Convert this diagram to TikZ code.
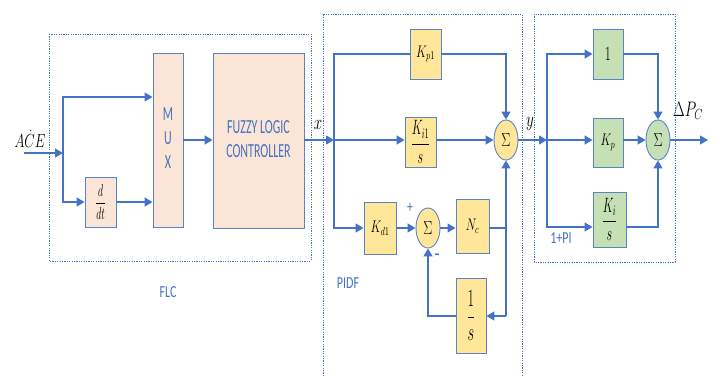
\RequirePackage{fix-cm}
\documentclass[tikz,border=0pt]{standalone}
\usepackage{fontspec}
\setsansfont{Carlito}
\usetikzlibrary{arrows.meta,shapes.geometric}
\definecolor{ln}{HTML}{4472C4}
\definecolor{bd}{HTML}{5B83CC}
\definecolor{pch}{HTML}{FBE5D6}
\definecolor{gld}{HTML}{FFE699}
\definecolor{grn}{HTML}{C5E0B4}
\newcommand\msc[2][16]{\scalebox{0.75}[1.05]{\fontsize{#1}{#1}\selectfont$\displaystyle #2$}}
\newcommand\mfr[2][16]{\scalebox{0.75}[1.3]{\fontsize{#1}{#1}\selectfont$\displaystyle #2$}}
\newcommand\tsc[2][19]{\scalebox{0.63}[1.05]{\fontsize{#1}{23}\selectfont\sffamily\begin{tabular}{@{}c@{}}#2\end{tabular}}}
\newcommand\lsc[1]{\scalebox{0.75}[1.05]{\fontsize{16}{18}\selectfont\sffamily #1}}
\begin{document}
\begin{tikzpicture}[x=1pt,y=-1pt,
  >={Triangle[length=8pt,width=9pt]},
  blk/.style={draw=bd, line width=0.9pt, inner sep=0pt},
  pchbox/.style={blk, fill=pch, text=ln},
  gldbox/.style={blk, fill=gld},
  grnbox/.style={blk, fill=grn},
  sumn/.style={ellipse, draw=bd, line width=0.9pt, inner sep=0pt, minimum width=24pt, minimum height=40pt},
  conn/.style={draw=ln, line width=1.3pt},
  arr/.style={conn,->},
  dotbox/.style={draw=ln, line width=0.8pt, dash pattern=on 1.2pt off 1.2pt},
  lbl/.style={text=ln, inner sep=0pt}]
\useasboundingbox (0,0) rectangle (718,376);

% dotted frames
\draw[dotbox] (49,34) rectangle (311,261);
\draw[dotbox] (323,376) -- (323,14) -- (522,14) -- (522,376);
\draw[dotbox] (534,14) rectangle (675,262);

% FLC blocks
\node[pchbox, minimum width=30pt, minimum height=174pt] (mux) at (168,140) {\tsc{M\\U\\X}};
\node[pchbox, minimum width=91pt, minimum height=175pt] (flc) at (258.5,140.5) {\tsc{FUZZY LOGIC\\CONTROLLER}};
\node[pchbox, text=black, minimum width=31pt, minimum height=50pt] (ddt) at (100.5,202) {\mfr[13]{\frac{d}{dt}}};

% PIDF blocks
\node[gldbox, minimum width=31pt, minimum height=50pt] (kp1) at (425.5,54) {\msc{K_{p1}}};
\node[gldbox, minimum width=31pt, minimum height=50pt] (ki1) at (420.5,142) {\mfr{\frac{K_{i1}}{s}}};
\node[sumn, fill=gld] (s1) at (506,140) {\msc[18]{\Sigma}};
\node[gldbox, minimum width=32pt, minimum height=52pt] (kd1) at (380,228) {\msc{K_{d1}}};
\node[sumn, fill=gld] (s2) at (428,228) {\msc[18]{\Sigma}};
\node[gldbox, minimum width=33pt, minimum height=54pt] (nc) at (472.5,226) {\msc{N_c}};
\node[gldbox, minimum width=30pt, minimum height=75pt] (inv) at (471,315.5) {\mfr[19]{\frac{1}{s}}};

% 1+PI blocks
\node[grnbox, minimum width=30pt, minimum height=50pt] (one) at (608,54) {\msc[19]{1}};
\node[grnbox, minimum width=30pt, minimum height=49pt] (kp) at (608,142.5) {\msc{K_p}};
\node[grnbox, minimum width=33pt, minimum height=55pt] (ki) at (609.5,219.5) {\mfr{\frac{K_i}{s}}};
\node[sumn, fill=grn] (s3) at (658,140) {\msc[18]{\Sigma}};

% coordinates
\coordinate (acein) at (24,153);
\coordinate (j1) at (63,153);
\coordinate (a1) at (63,97);
\coordinate (j2) at (334,140);
\coordinate (j3) at (506,316);
\coordinate (j4) at (547,140);
\coordinate (b3) at (547,227);
\coordinate (out) at (708,140);

% FLC connectors
\draw[arr] (acein) -- (j1);
\draw[arr] (j1) |- (a1 -| mux.west);
\draw[arr] (j1) |- (ddt.west);
\draw[arr] (ddt.east) -- (ddt.east -| mux.west);
\draw[arr] (mux.east) -- (mux.east -| flc.west);
\draw[arr] (flc.east |- j2) -- (j2);

% PIDF connectors
\draw[arr] (j2) -- (j2 -| ki1.west);
\draw[conn] (j2) |- (kp1.west);
\draw[arr] (kp1.east) -| (s1.north);
\draw[arr] (ki1.east |- j2) -- (s1.west);
\draw[arr] (j2) |- (kd1.west);
\draw[arr] (kd1.east) -- (s2.west);
\draw[arr] (s2.east) -- (s2.east -| nc.west);
\draw[conn] (s2.east -| nc.east) -- (s2.east -| j3);
\draw[arr] (j3) -- (s1.south);
\draw[arr] (j3) -- (j3 -| inv.east);
\draw[arr] (inv.west |- j3) -| (s2.south);
\draw[arr] (s1.east) -- (j4);

% 1+PI connectors
\draw[arr] (j4) -- (j4 -| kp.west);
\draw[arr] (j4) |- (one.west);
\draw[arr] (j4) |- (b3 -| ki.west);
\draw[arr] (kp.east |- j4) -- (s3.west);
\draw[arr] (one.east) -| (s3.north);
\draw[arr] (b3 -| ki.east) -| (s3.south);
\draw[arr] (s3.east) -- (out);

% labels
\node[inner sep=0pt] (lace) at (30,139) {\msc[18]{A\dot{C}E}};
\node[inner sep=0pt] (lx) at (318,125) {\msc[20]{x}};
\node[inner sep=0pt] (ly) at (530,124) {\msc[20]{y}};
\node[inner sep=0pt] (ldp) at (688,111) {\msc[20]{\Delta P_C}};
\node[lbl] (lplus) at (410,208) {\lsc{+}};
\node[lbl] (lminus) at (437,257) {\lsc{\textbf{--}}};
\node[lbl] (lflc) at (168,292) {\lsc{FLC}};
\node[lbl] (lpidf) at (348,283) {\lsc{PIDF}};
\node[lbl] (lpi) at (561,238) {\lsc{1+PI}};
\end{tikzpicture}
\end{document}
